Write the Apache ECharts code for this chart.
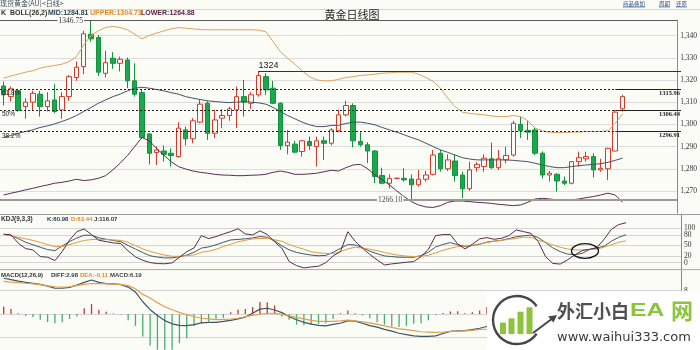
<!DOCTYPE html>
<html>
<head>
<meta charset="utf-8">
<script src="https://cdn.jsdelivr.net/npm/echarts@6/dist/echarts.min.js"></script>
<style>
  html, body { margin: 0; padding: 0; background: #fcfcf7; }
  #chart { width: 700px; height: 350px; }
</style>
</head>
<body>
<div id="chart"></div>
<script>
// ---- Daily gold prices (oldest first) ----
const openPrices = [1317.3,1312.5,1315.1,1308.0,1310.0,1313.6,1308.0,1311.0,1306.5,1312.5,
  1321.1,1326.0,1340.6,1339.1,1323.0,1329.8,1327.5,1329.0,1319.6,1314.3,
  1295.7,1287.3,1288.0,1287.0,1285.5,1297.5,1293.5,1301.0,1309.5,1296.0,
  1302.8,1304.0,1306.5,1312.5,1309.5,1313.3,1321.5,1316.3,1309.5,1290.5,
  1291.1,1287.8,1292.3,1290.0,1292.6,1291.5,1297.1,1304.3,1308.5,1292.3,
  1290.8,1288.0,1277.0,1273.5,1275.7,1275.7,1275.4,1272.8,1275.3,1277.5,
  1287.0,1280.0,1283.5,1277.2,1271.0,1280.5,1281.0,1284.5,1280.5,1284.0,
  1286.2,1300.0,1297.3,1297.5,1287.0,1277.2,1277.5,1274.5,1273.5,1283.2,
  1284.5,1285.5,1279.5,1280.0,1288.0,1307.0];
const closePrices = [1313.3,1316.0,1306.2,1310.0,1314.0,1308.0,1310.6,1305.8,1312.5,1321.5,
  1325.7,1340.8,1338.5,1323.5,1327.8,1327.5,1329.3,1319.6,1313.6,1294.1,
  1287.0,1288.5,1286.5,1286.0,1298.3,1293.5,1301.6,1309.1,1296.0,1302.0,
  1304.0,1307.0,1312.5,1310.0,1313.3,1322.0,1315.5,1309.5,1290.5,1292.0,
  1287.5,1292.6,1290.5,1292.6,1291.5,1297.5,1304.3,1308.5,1292.6,1290.8,
  1288.0,1276.5,1273.5,1275.7,1275.7,1275.0,1272.8,1275.3,1277.2,1286.2,
  1280.0,1284.0,1277.0,1271.0,1279.5,1282.0,1284.8,1280.5,1284.5,1286.0,
  1300.5,1297.1,1296.5,1287.0,1277.2,1278.0,1274.5,1273.5,1283.2,1285.0,
  1285.5,1279.5,1280.2,1289.2,1305.5,1312.5];
const lowPrices = [1308.5,1310.3,1305.8,1302.5,1306.5,1303.5,1305.8,1305.0,1302.5,1310.6,
  1319.6,1322.6,1337.3,1321.8,1321.1,1325.0,1323.8,1316.3,1312.5,1293.5,
  1282.0,1281.7,1283.2,1281.0,1285.0,1290.5,1291.5,1300.5,1293.0,1293.8,
  1298.3,1301.6,1298.3,1303.5,1307.0,1312.5,1313.3,1309.1,1288.5,1286.5,
  1287.0,1285.5,1288.5,1281.0,1284.0,1290.5,1296.5,1303.5,1289.6,1290.0,
  1282.5,1273.5,1273.0,1271.2,1275.3,1274.2,1266.1,1272.0,1274.2,1277.0,
  1278.7,1279.0,1274.2,1266.8,1270.0,1278.7,1278.7,1280.0,1279.5,1282.5,
  1285.5,1293.8,1293.0,1286.2,1275.7,1274.2,1269.7,1272.7,1273.0,1281.0,
  1283.2,1276.0,1278.7,1275.0,1287.8,1305.8];
const highPrices = [1319.3,1317.0,1316.0,1311.8,1315.1,1315.1,1314.5,1318.1,1314.5,1322.3,
  1328.3,1342.1,1346.75,1340.3,1333.1,1332.5,1330.5,1330.1,1327.5,1315.5,
  1296.0,1290.0,1290.5,1289.2,1301.0,1299.0,1302.8,1311.0,1310.6,1306.5,
  1306.8,1308.0,1317.0,1320.0,1314.5,1324.0,1323.0,1319.6,1310.0,1297.5,
  1292.6,1293.0,1294.5,1294.5,1294.5,1298.3,1306.5,1310.6,1309.5,1296.5,
  1292.0,1288.5,1280.5,1277.5,1276.0,1280.2,1277.5,1279.5,1279.0,1288.5,
  1288.5,1286.5,1286.5,1278.7,1283.2,1283.0,1286.5,1291.8,1288.5,1290.0,
  1301.6,1303.5,1301.5,1298.6,1287.8,1279.0,1278.0,1276.5,1283.5,1287.7,
  1287.7,1287.0,1284.5,1289.5,1306.5,1313.3];

// ---- BOLL(26,2) ----
const bollUpper = [1320.8,1321.8,1322.6,1323.5,1324.1,1325.3,1326.0,1326.5,1327.1,1328.3,
  1330.5,1335.8,1340.0,1342.1,1343.6,1344.1,1343.6,1342.6,1340.6,1338.5,
  1340.0,1341.1,1342.1,1343.0,1343.6,1343.3,1343.0,1342.7,1342.6,1342.6,
  1342.6,1342.6,1342.6,1342.6,1342.6,1342.4,1341.8,1337.3,1332.8,1329.8,
  1327.1,1324.1,1321.5,1320.0,1319.6,1319.6,1320.3,1321.1,1321.5,1322.0,
  1322.3,1322.6,1323.0,1323.2,1323.5,1323.5,1323.5,1322.6,1321.1,1319.3,
  1316.3,1311.8,1308.0,1305.5,1304.9,1304.6,1304.3,1303.8,1303.5,1303.5,
  1304.0,1303.5,1301.6,1298.3,1297.1,1296.5,1296.3,1296.3,1296.5,1296.5,
  1296.8,1296.8,1296.8,1297.1,1300.5,1304.73];
const bollMid = [1294.1,1295.0,1296.0,1296.8,1297.5,1298.6,1299.3,1300.2,1301.3,1302.5,
  1304.0,1305.8,1307.6,1309.5,1311.0,1312.5,1313.6,1315.1,1316.3,1316.7,
  1316.3,1315.7,1315.1,1314.3,1313.6,1312.5,1311.8,1311.2,1310.6,1310.3,
  1310.0,1309.8,1310.0,1310.3,1310.0,1309.7,1309.1,1307.6,1305.8,1304.0,
  1302.5,1301.0,1299.8,1299.0,1299.0,1299.5,1299.6,1300.4,1301.0,1301.0,
  1300.5,1299.8,1298.6,1297.5,1296.5,1295.3,1294.1,1293.0,1291.5,1290.0,
  1288.5,1287.4,1286.2,1285.0,1284.4,1284.0,1284.0,1284.0,1284.0,1284.0,
  1283.8,1283.5,1283.2,1282.5,1281.7,1281.0,1280.5,1280.5,1281.0,1281.4,
  1281.7,1282.0,1282.3,1282.9,1283.8,1284.81];
const bollLower = [1268.2,1269.0,1269.7,1270.5,1271.2,1272.0,1272.7,1273.5,1273.9,1274.5,
  1275.3,1274.7,1275.0,1275.7,1276.9,1279.5,1282.5,1285.9,1290.0,1294.1,
  1292.6,1289.2,1286.2,1283.2,1281.0,1279.9,1279.0,1278.4,1278.0,1277.5,
  1277.2,1277.1,1276.9,1276.9,1277.1,1277.2,1277.5,1278.4,1279.0,1278.4,
  1277.5,1277.5,1277.7,1278.0,1278.7,1279.3,1279.0,1280.5,1281.7,1282.0,
  1280.0,1277.2,1275.0,1272.7,1270.0,1267.5,1265.2,1263.7,1262.8,1262.6,
  1263.4,1264.9,1265.5,1265.5,1265.2,1264.9,1264.7,1264.4,1264.0,1263.7,
  1263.4,1263.7,1264.9,1266.4,1266.7,1266.4,1266.0,1265.8,1266.0,1266.4,
  1267.0,1267.5,1268.2,1269.0,1268.2,1264.88];

// ---- KDJ(9,3,3) ----
const kdjK = [82.5,78.6,69.9,59.2,52.0,44.7,37.9,35.0,48.6,61.2,
  71.8,79.6,79.6,72.3,67.9,64.6,60.7,50.0,39.4,29.2,
  20.0,16.1,13.7,13.7,17.1,21.9,30.2,42.3,45.7,52.0,
  59.2,66.0,67.5,69.4,71.8,75.7,73.8,63.6,48.6,37.0,
  29.7,25.3,21.9,20.0,21.0,30.2,41.8,52.5,51.5,43.7,
  33.1,25.8,19.5,17.6,15.6,15.6,15.6,20.5,30.2,45.7,
  52.9,58.3,52.0,47.1,49.5,53.4,59.7,62.6,65.0,69.9,
  75.2,78.1,80.1,72.8,58.3,42.8,32.1,24.8,23.4,26.8,
  37.9,42.8,47.6,62.1,73.8,80.98];
const kdjD = [82.5,77.6,73.8,69.4,64.6,58.8,52.5,46.6,46.6,52.5,
  58.8,64.6,67.0,67.9,67.5,66.0,64.6,58.8,49.5,39.9,
  32.6,26.8,21.9,18.5,18.5,20.5,22.4,30.2,33.1,38.9,
  46.6,53.4,60.7,65.0,68.9,69.9,70.9,66.5,62.1,52.9,
  45.2,38.9,31.6,28.7,26.8,25.8,32.1,39.9,44.7,42.3,
  38.9,35.0,29.7,24.8,21.4,19.0,17.6,19.0,21.4,28.2,
  35.9,41.8,46.6,47.6,50.5,54.4,58.8,62.1,65.0,67.9,
  70.4,73.8,73.8,65.0,59.2,51.5,44.7,39.9,37.0,37.0,
  37.9,38.9,45.2,52.0,59.2,63.44];
const kdjJ = [82.5,81.0,56.3,40.8,37.0,17.6,15.6,6.0,32.1,66.0,
  90.2,98.0,81.5,65.0,61.2,57.3,55.4,34.0,16.6,6.9,
  0.1,-2.8,-3.3,-0.8,15.6,31.6,42.8,78.6,69.9,75.7,
  83.5,90.2,98.5,83.5,80.6,92.2,82.0,60.2,41.8,3.0,
  -8.6,-15.4,-12.5,-10.5,0.1,19.5,32.1,90.0,62.1,41.8,
  23.9,7.9,-6.7,-3.7,-1.3,1.1,3.0,17.6,38.9,78.6,
  81.5,81.5,54.4,39.9,53.4,69.0,72.8,67.9,70.9,78.6,
  95.1,90.2,85.4,61.2,17.6,-2.3,-4.2,7.9,22.4,35.0,
  38.9,43.7,67.9,97.0,110.6,116.07];

// ---- MACD(12,26,9) ----
const macdDiff = [12.2,11.7,11.2,10.8,10.5,10.1,9.5,8.8,8.8,9.1,
  9.9,10.8,11.6,10.8,10.4,10.3,10.0,9.2,7.5,4.2,
  1.5,-0.5,-2.2,-3.3,-3.8,-3.9,-3.6,-3.0,-2.8,-2.8,
  -2.5,-2.1,-1.6,-1.0,0.3,1.7,2.0,1.4,0.5,-0.9,
  -1.9,-2.8,-3.4,-3.8,-4.0,-3.5,-3.1,-2.2,-2.4,-3.1,
  -3.9,-4.4,-5.2,-5.8,-6.5,-7.0,-7.4,-7.6,-7.6,-7.4,
  -6.6,-5.9,-5.7,-5.6,-5.3,-4.8,-4.2,-3.8,-3.4,-3.0,
  -1.8,-1.0,-0.5,-0.9,-1.8,-2.5,-3.2,-3.7,-3.3,-2.9,
  -2.6,-2.6,-2.5,-1.8,0.6,2.98];
const macdDea = [11.1,10.9,10.8,10.5,10.3,10.0,9.6,9.3,9.2,9.3,
  9.7,10.1,10.4,10.4,10.3,10.2,10.1,9.7,8.6,6.7,
  5.5,3.9,2.5,1.5,0.6,-0.2,-0.8,-1.4,-1.6,-1.9,
  -1.8,-1.7,-1.4,-0.9,-0.4,-0.05,0.3,0.3,-0.1,-0.6,
  -1.1,-1.6,-2.1,-2.5,-2.5,-2.5,-2.3,-2.0,-2.3,-2.6,
  -3.0,-3.5,-4.0,-4.5,-5.0,-5.3,-5.6,-6.0,-6.1,-6.2,
  -6.1,-5.9,-5.8,-5.7,-5.5,-5.2,-5.1,-4.8,-4.5,-4.2,
  -3.7,-3.2,-2.7,-2.4,-2.3,-2.4,-2.6,-2.8,-2.9,-2.9,
  -2.9,-2.8,-2.7,-2.5,-1.9,-0.11];
const macdHist = [2.6,1.7,0.3,-0.6,-1.0,-1.9,-2.7,-3.1,-2.8,-1.7,
  -0.8,2.0,3.4,1.5,0.8,0.2,-0.1,-2.1,-4.0,-7.6,
  -10.7,-12.5,-12.5,-12.3,-9.9,-8.2,-4.0,-3.1,-2.5,-1.9,
  -1.2,0.6,1.5,1.7,2.4,4.1,4.0,2.9,-0.8,-1.9,
  -3.6,-3.8,-3.6,-3.4,-3.1,-1.7,0.3,1.2,0.3,-0.5,
  -1.4,-2.8,-3.6,-4.2,-4.4,-4.0,-3.3,-3.1,-2.1,-0.3,
  0.4,0.9,1.0,0.3,0.6,1.2,2.4,2.0,2.2,2.4,
  3.8,4.4,4.4,3.0,1.0,-0.2,-1.2,-1.8,-0.8,0.0,
  0.6,0.4,0.4,1.4,5.0,6.19];

// ---- Axis ticks and retracement levels ----
const priceTicks = [1270, 1280, 1290, 1300, 1310, 1320, 1330, 1340];
const kdjTicks = [0, 20, 50, 80, 100];
const macdTicks = [-8, 0, 8];
const fibNames = ['61.8%', '50%', '38.2%'];
const fibValues = [1315.96, 1306.44, 1296.91];
const swingHighDay = 35;           // day whose high forms the 1324 resistance

// Slots: trading days plus empty room on the right edge
const slotCount = 93;
const slotLabels = Array.from({ length: slotCount }, (_, i) => 'D' + (i + 1));

const BG = '#fcfcf7';
const UP = '#d23a2c', DOWN_FILL = '#1ba84c', DOWN_EDGE = '#13913f';
const C_UPPER = '#d8a463', C_MID = '#3f5566', C_LOWER = '#5a2e4e';
const C_K = '#3e5a68', C_D = '#e39a3b', C_J = '#5b2b4e';
const AXIS_X = 681;
const last = closePrices.length - 1;

const candleData = openPrices.map((o, i) => [o, closePrices[i], lowPrices[i], highPrices[i]]);
const highIdx = highPrices.indexOf(Math.max(...highPrices));
const lowIdx = lowPrices.indexOf(Math.min(...lowPrices));
const topHigh = highPrices[highIdx];
const bottomLow = lowPrices[lowIdx];

const serif = 'Liberation Serif';
const sans = 'Liberation Sans';

// Horizontal annotation lines on the price panel
const priceLines = [];
priceLines.push({ yAxis: topHigh, lineStyle: { color: '#5a5a5a', width: 1, type: 'solid' }, label: { show: false } });
priceLines.push({ yAxis: bottomLow, lineStyle: { color: '#9a9a9a', width: 2, type: 'solid' }, label: { show: false } });
fibValues.forEach((v, k) => {
  priceLines.push({
    yAxis: v,
    lineStyle: { color: '#222', width: 1, type: [2, 2] },
    label: { show: true, position: 'insideStartBottom', formatter: fibNames[k], distance: [2, 1],
      fontFamily: sans, fontSize: 6.5, color: '#222' }
  });
  priceLines.push([
    { xAxis: 84, yAxis: v, lineStyle: { color: '#222', width: 1, type: 'solid' },
      label: { show: true, position: 'insideEndBottom', formatter: v.toFixed(2), distance: [1, 1],
        fontFamily: serif, fontWeight: 'bold', fontSize: 6.5, color: '#222' } },
    { xAxis: slotCount - 1, yAxis: v, x: AXIS_X }
  ]);
});
priceLines.push([
  { xAxis: swingHighDay, yAxis: highPrices[swingHighDay], lineStyle: { color: '#333', width: 1.2, type: 'solid' },
    label: { show: true, position: 'insideStartTop', formatter: String(highPrices[swingHighDay]), distance: [0, 1],
      fontFamily: sans, fontSize: 9, color: '#222' } },
  { xAxis: slotCount - 1, yAxis: highPrices[swingHighDay], x: AXIS_X }
]);

const extremeLabel = (idx, val, dist, color) => ({
  coord: [idx, val], symbol: 'circle', symbolSize: 0.1, itemStyle: { color: 'rgba(0,0,0,0)' },
  label: { show: true, position: 'left', distance: dist, formatter: val.toFixed(2),
    fontFamily: serif, fontSize: 7.5, color: color, backgroundColor: BG, padding: [0, 1] }
});

const lineSeries = (name, data, color, xi, width) => ({
  name, type: 'line', xAxisIndex: xi, yAxisIndex: xi, data, symbol: 'none', showSymbol: false,
  lineStyle: { color, width: width || 1 }, silent: true, z: 3
});

const hidden = { show: false };
const option = {
  animation: false,
  backgroundColor: BG,
  grid: [
    { left: 0, width: AXIS_X, top: 20, height: 193.2 },
    { left: 0, width: AXIS_X, top: 214.5, height: 55 },
    { left: 0, width: AXIS_X, top: 270, height: 79.7 }
  ],
  xAxis: [0, 1, 2].map(g => ({
    type: 'category', gridIndex: g, data: slotLabels, boundaryGap: true,
    axisLine: hidden, axisTick: hidden, axisLabel: hidden, splitLine: hidden
  })),
  yAxis: [
    { type: 'value', gridIndex: 0, position: 'right', min: 1260, max: 1347,
      axisLine: { show: true, lineStyle: { color: '#8a8a8a' } },
      axisTick: { show: false, customValues: priceTicks },
      axisLabel: { customValues: priceTicks, margin: 3, fontFamily: serif, fontSize: 7.5, color: '#333' },
      splitLine: { show: true, lineStyle: { color: '#dcdcdc' } } },
    { type: 'value', gridIndex: 1, position: 'right', min: -20, max: 140,
      axisLine: { show: true, lineStyle: { color: '#8a8a8a' } },
      axisTick: { show: false, customValues: kdjTicks },
      axisLabel: { show: false, customValues: kdjTicks },
      splitLine: { show: true, lineStyle: { color: '#d4d4d4' } } },
    { type: 'value', gridIndex: 2, position: 'right', min: -12.1, max: 15,
      axisLine: { show: true, lineStyle: { color: '#8a8a8a' } },
      axisTick: { show: false, customValues: macdTicks },
      axisLabel: { customValues: macdTicks, margin: 3, fontFamily: serif, fontSize: 7.5, color: '#333' },
      splitLine: { show: true, lineStyle: { color: '#d4d4d4' } } }
  ],
  series: [
    {
      name: '现货黄金', type: 'candlestick', xAxisIndex: 0, yAxisIndex: 0, data: candleData,
      barWidth: 5, silent: true,
      itemStyle: { color: BG, color0: DOWN_FILL, borderColor: UP, borderColor0: DOWN_EDGE, borderWidth: 1 },
      markLine: { silent: true, symbol: ['none', 'none'], animation: false, data: priceLines },
      markPoint: { silent: true, animation: false, data: [
        extremeLabel(highIdx, topHigh, 7, '#333'),
        extremeLabel(lowIdx, bottomLow, 8, '#4a4a55')
      ] }
    },
    lineSeries('UPPER', bollUpper, C_UPPER, 0),
    lineSeries('MID', bollMid, C_MID, 0),
    lineSeries('LOWER', bollLower, C_LOWER, 0),
    lineSeries('K', kdjK, C_K, 1),
    lineSeries('D', kdjD, C_D, 1),
    lineSeries('J', kdjJ, C_J, 1),
    {
      name: 'MACD', type: 'bar', xAxisIndex: 2, yAxisIndex: 2, barWidth: 1.3, clip: true, silent: true,
      data: macdHist.map(v => ({ value: v, itemStyle: { color: v >= 0 ? '#cc3333' : '#46ae6e' } }))
    },
    lineSeries('DIFF', macdDiff, '#3e5566', 2, 1.2),
    lineSeries('DEA', macdDea, '#e0a050', 2, 1.2)
  ],
  graphic: []
};

// ---- Text headers and frame ----
const txt = (x, y, text, font, fill, align, z) => ({
  type: 'text', x, y, z: z || 50, silent: true,
  style: { text, font, fill, align: align || 'left', verticalAlign: 'middle' }
});
const hline = (x1, x2, y, stroke, w) => ({
  type: 'line', z: 50, silent: true, shape: { x1, y1: y, x2, y2: y }, style: { stroke, lineWidth: w || 1 }
});
const hdr = 'bold 7px "Liberation Sans"';
const hdr2 = 'bold 6px "Liberation Sans"';
const cjk = '"Noto Sans CJK SC"';

option.graphic.push(
  txt(0, 3.5, '现货黄金(AU)<日线>', '7px ' + cjk, '#3c4a5c'),
  txt(623, 3.5, '商品叠加', '5.5px ' + cjk, '#2b4c8c'),
  txt(659, 3.5, '周期', '5.5px ' + cjk, '#2b4c8c'),
  txt(676, 3.5, '还原', '5.5px ' + cjk, '#2b4c8c'),
  hline(623, 645, 7, '#2b4c8c', 0.6), hline(659, 670, 7, '#2b4c8c', 0.6), hline(676, 687, 7, '#2b4c8c', 0.6),
  hline(0, 700, 9.5, '#d6d6d6', 1),
  txt(1, 13.3, 'K', hdr, '#333'),
  txt(10, 13.3, 'BOLL(26,2)', hdr, '#333'),
  txt(48, 13.3, 'MID:' + bollMid[last].toFixed(2), hdr, '#2d3e52'),
  txt(90, 13.3, 'UPPER:' + bollUpper[last].toFixed(2), hdr, '#e08a2a'),
  txt(141, 13.3, 'LOWER:' + bollLower[last].toFixed(2), hdr, '#5a2340'),
  txt(352, 14.5, '黄金日线图', '11px ' + cjk, '#222', 'center'),
  hline(0, 700, 214.5, '#9a9a9a', 1),
  txt(1, 219.5, 'KDJ(9,3,3)', 'bold 6.5px "Liberation Sans"', '#333'),
  txt(47, 219.5, 'K:' + kdjK[last].toFixed(2), hdr2, '#2d4050'),
  txt(71, 219.5, 'D:' + kdjD[last].toFixed(2), hdr2, '#e08a2a'),
  txt(94, 219.5, 'J:' + kdjJ[last].toFixed(2), hdr2, '#333'),
  hline(0, 700, 269.6, '#a8a8a8', 1),
  txt(1, 275, 'MACD(12,26,9)', hdr2, '#333'),
  txt(51, 275, 'DIFF:' + macdDiff[last].toFixed(2), hdr2, '#2d4050'),
  txt(80, 275, 'DEA:' + macdDea[last].toFixed(2), hdr2, '#e08a2a'),
  txt(110, 275, 'MACD:' + macdHist[last].toFixed(2), hdr2, '#444'),
  // golden-cross marker on the KDJ panel
  { type: 'ellipse', z: 50, silent: true, shape: { cx: 585, cy: 251, rx: 13.5, ry: 7.3 },
    style: { fill: 'none', stroke: '#111', lineWidth: 1.3 } }
);

// ---- Site logo badge, lower right ----
const lime = '#8cc43c';
option.graphic.push(
  { type: 'rect', z: 60, silent: true, shape: { x: 487, y: 291, width: 213, height: 59 }, style: { fill: '#ffffff' } },
  { type: 'arc', z: 61, silent: true,
    shape: { cx: 517, cy: 320, r: 24, startAngle: 35 * Math.PI / 180, endAngle: 325 * Math.PI / 180, clockwise: true },
    style: { fill: 'none', stroke: '#474747', lineWidth: 2.4 } },
  { type: 'rect', z: 61, silent: true, shape: { x: 500, y: 322.7, width: 6, height: 11.3 }, style: { fill: lime } },
  { type: 'rect', z: 61, silent: true, shape: { x: 508.5, y: 318.3, width: 6, height: 15.7 }, style: { fill: lime } },
  { type: 'rect', z: 61, silent: true, shape: { x: 517.5, y: 311.7, width: 6, height: 22.3 }, style: { fill: lime } },
  { type: 'rect', z: 61, silent: true, shape: { x: 526.5, y: 307.3, width: 6, height: 26.7 }, style: { fill: lime } },
  { type: 'line', z: 61, silent: true, shape: { x1: 533, y1: 333, x2: 553, y2: 318 }, style: { stroke: '#474747', lineWidth: 2 } },
  { type: 'polygon', z: 61, silent: true, shape: { points: [[557, 315], [548, 316.5], [553.5, 322.5]] }, style: { fill: '#474747' } },
  txt(557, 311, '外汇小白', 'bold 18px ' + cjk, '#505050', 'left', 62),
  Object.assign(txt(630, 311, 'EA', 'bold 19px "Liberation Sans"', lime, 'left', 62), { scaleX: 1.3 }),
  txt(671, 311, '网', 'bold 22px ' + cjk, lime, 'left', 62),
  txt(557, 337.5, 'www.waihui333.com', '13px "DejaVu Sans"', '#3a3a3a', 'left', 62)
);

const chart = echarts.init(document.getElementById('chart'), null, { renderer: 'canvas' });
chart.setOption(option);

// KDJ scale labels placed from the KDJ axis itself
const kdjLabels = kdjTicks.map(v =>
  txt(AXIS_X + 3, chart.convertToPixel({ yAxisIndex: 1 }, v), String(v), '7.5px "Liberation Serif"', '#333'));
chart.setOption({ graphic: option.graphic.concat(kdjLabels) });
</script>
</body>
</html>
